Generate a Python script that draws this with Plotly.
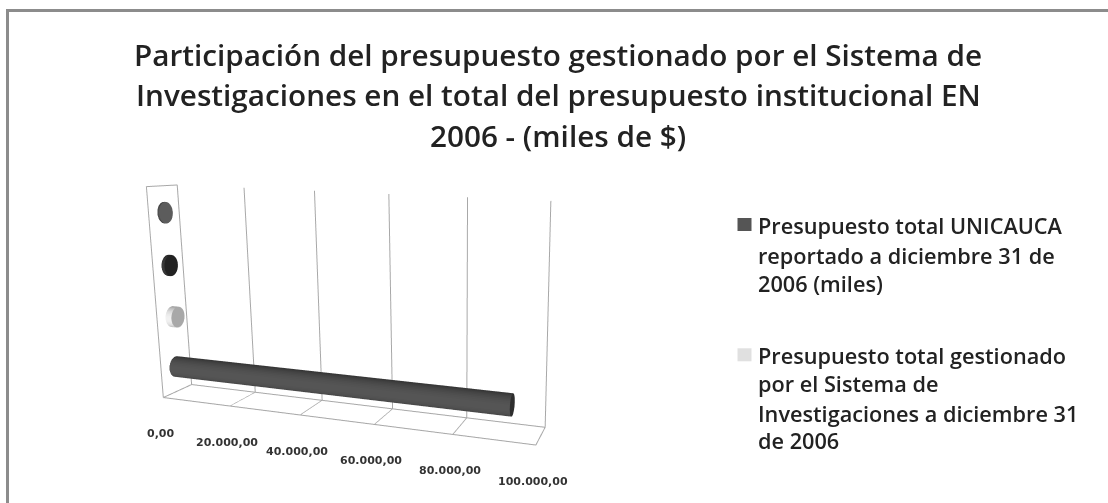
import numpy as np
import plotly.graph_objects as go

title_lines = ["Participación del presupuesto gestionado por el Sistema de",
               "Investigaciones en el total del presupuesto institucional EN",
               "2006 - (miles de $)"]
categories = [1, 2, 3, 4]          # rows from the bottom upwards
bar_values = [93000, 1800, 900, 500]
bar_side = ["#565656", "#f2f2f2", "#3a3a3a", "#505050"]
bar_cap = ["#2e2e2e", "#a8a8a8", "#222222", "#5c5c5c"]
bar_names = ["Presupuesto total UNICAUCA reportado a diciembre 31 de 2006 (miles)",
             "Presupuesto total gestionado por el Sistema de Investigaciones a diciembre 31 de 2006",
             "Serie 3", "Serie 4"]
tick_vals = [0, 20000, 40000, 60000, 80000, 100000]
tick_text = ["0,00", "20.000,00", "40.000,00", "60.000,00", "80.000,00", "100.000,00"]
legend_a = ["Presupuesto total UNICAUCA", "reportado a diciembre 31 de", "2006 (miles)"]
legend_b = ["Presupuesto total gestionado", "por el Sistema de", "Investigaciones a diciembre 31", "de 2006"]

ASPECT = dict(x=0.683, y=0.064, z=0.374)
EYE = dict(x=0.5439, y=-0.8901, z=0.259)
CENTER = dict(x=0.3392, y=0.0762, z=0.1004)
UP = dict(x=-0.0575, y=0.1447, z=0.9873)
R_WORLD = 0.018
Y_MAX, Z_MAX = 1.0, 4.0
ry = 0.8 * R_WORLD / ASPECT["y"] * Y_MAX
rz = 1.05 * R_WORLD / ASPECT["z"] * Z_MAX


def rgb(c):
    return np.array([int(c[i:i + 2], 16) for i in (1, 3, 5)], float)


def cylinder(value, row, side, cap, name):
    n = 40
    th = np.linspace(0, 2 * np.pi, n, endpoint=False)
    y = 0.5 + ry * np.cos(th)
    z = row - 0.5 + rz * np.sin(th)
    xs = np.r_[np.zeros(n), np.full(n, value), [value]]
    ys = np.r_[y, y, [0.5]]
    zs = np.r_[z, z, [row - 0.5]]
    i, j, k, fc = [], [], [], []
    base = rgb(side)
    for a in range(n):
        b = (a + 1) % n
        mid = th[a] + np.pi / n
        t = max(0.0, -np.cos(mid))          # facing the viewer
        col = base * (0.62 + 0.38 * t)
        c = "rgb(%d,%d,%d)" % tuple(col)
        i += [a, b]; j += [b, b + n]; k += [a + n, a + n]
        fc += [c, c]
    for a in range(n):
        b = (a + 1) % n
        i.append(2 * n); j.append(a + n); k.append(b + n)
        fc.append(cap)
    return go.Mesh3d(x=xs, y=ys, z=zs, i=i, j=j, k=k, facecolor=fc, flatshading=True,
                     lighting=dict(ambient=1, diffuse=0, specular=0, fresnel=0), name=name,
                     hoverinfo="name", showscale=False)


fig = go.Figure()
for v, r, s, c, nm in zip(bar_values, categories, bar_side, bar_cap, bar_names):
    fig.add_trace(cylinder(v, r, s, c, nm))

# wall and floor outlines
xm = tick_vals[-1]
wall_x = [0, 0, 0, 0, 0, None, 0, xm, xm, None, 0, xm, None, xm, xm]
wall_y = [0, 0, Y_MAX, Y_MAX, 0, None, 0, 0, Y_MAX, None, Y_MAX, Y_MAX, None, Y_MAX, Y_MAX]
wall_z = [0, Z_MAX, Z_MAX, 0, 0, None, 0, 0, 0, None, 0, 0, None, 0, Z_MAX]
fig.add_trace(go.Scatter3d(x=wall_x, y=wall_y, z=wall_z, mode="lines",
                           line=dict(color="#a8a8a8", width=2), hoverinfo="skip", showlegend=False))

hidden = dict(showgrid=False, zeroline=False, showticklabels=False, showbackground=False,
              showline=False, ticks="", title="", showspikes=False)
tick_notes = [dict(x=v, y=0, z=0, text=t, showarrow=False, yshift=-36, xshift=-3,
                   font=dict(family="DejaVu Sans", size=11, color="#333333", weight="bold"))
              for v, t in zip(tick_vals, tick_text)]
fig.update_layout(
    width=1108, height=503, margin=dict(l=0, r=0, t=0, b=0), paper_bgcolor="white", showlegend=False,
    scene=dict(
        domain=dict(x=[0, 1], y=[0, 1]), aspectmode="manual", aspectratio=ASPECT,
        camera=dict(eye=EYE, center=CENTER, up=UP, projection=dict(type="perspective")),
        xaxis=dict(range=[0, xm * 1.0001], tickvals=tick_vals, showticklabels=False, showgrid=True,
                   gridcolor="#a8a8a8", gridwidth=2, zeroline=False, showbackground=False,
                   showline=False, ticks="", title="", showspikes=False),
        yaxis=dict(range=[0, Y_MAX], **hidden),
        zaxis=dict(range=[0, Z_MAX], **hidden),
        annotations=tick_notes,
    ),
    shapes=[dict(type="line", xref="paper", yref="paper", x0=7.5 / 1108, x1=7.5 / 1108, y0=0, y1=1 - 10 / 503,
                 line=dict(color="#8c8c8c", width=3)),
            dict(type="line", xref="paper", yref="paper", x0=6 / 1108, x1=1, y0=1 - 10.5 / 503, y1=1 - 10.5 / 503,
                 line=dict(color="#8c8c8c", width=3))],
)


def text(x, y, s, size, anchor="left", weight="normal"):
    fig.add_annotation(x=x / 1108, y=1 - y / 503, xref="paper", yref="paper", text=s, showarrow=False,
                       xanchor=anchor, yanchor="middle",
                       font=dict(family="Open Sans", size=size, color="#222222", weight=weight))


for s, y in zip(title_lines, [55, 95, 135]):
    text(558, y, s, 29.7, "center", 600)
for s, y in zip(legend_a, [225, 255, 283]):
    text(756, y, s, 21.7, weight=600)
for s, y in zip(legend_b, [355, 383, 413, 440]):
    text(756, y, s, 21.7, weight=600)
for col, yc in (("#555555", 224.5), ("#e0e0e0", 354.8)):
    fig.add_shape(type="rect", xref="paper", yref="paper", x0=737.5 / 1108, x1=751.5 / 1108,
                  y0=1 - (yc + 6.5) / 503, y1=1 - (yc - 6.5) / 503, fillcolor=col, line=dict(width=0))

fig.write_html("out.html", post_script="document.body.style.margin='0';",
               config={"displayModeBar": False})
